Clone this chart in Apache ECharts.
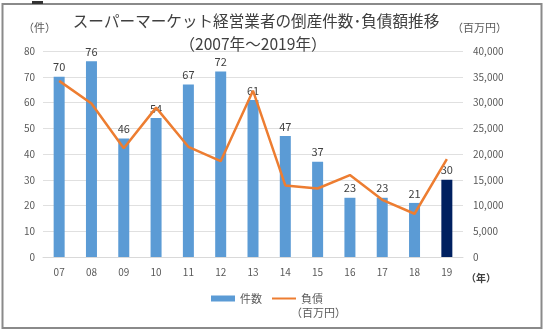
<!DOCTYPE html>
<html><head><meta charset="utf-8">
<script src="https://cdn.jsdelivr.net/npm/echarts@6/dist/echarts.min.js"></script>
<style>html,body{margin:0;padding:0;background:#fff}#c{width:544px;height:332px}</style>
</head><body><div id="c"></div>
<script>
const categories = ['07','08','09','10','11','12','13','14','15','16','17','18','19'];
const counts = [70,76,46,54,67,72,61,47,37,23,23,21,30];
const debts = [34200,29800,21100,29000,21400,18600,32300,13900,13300,15900,11100,8400,19000];
const leftTicks = [0,10,20,30,40,50,60,70,80];
const rightTicks = [0,5000,10000,15000,20000,25000,30000,35000,40000];

const font = '"Noto Sans CJK JP", "Noto Sans", sans-serif';
const chart = echarts.init(document.getElementById('c'));
chart.setOption({
  animation: false,
  textStyle: {fontFamily: font},
  title: [
    {text: 'スーパーマーケット経営業者の倒産件数･負債額推移', left: 251, top: 8, textAlign: 'center',
     textStyle: {fontSize: 15.6, fontWeight: 'normal', color: '#404040', fontFamily: font}},
    {text: '（2007年～2019年）', left: 248, top: 31, textAlign: 'center',
     textStyle: {fontSize: 15.6, fontWeight: 'normal', color: '#404040', fontFamily: font}}
  ],
  graphic: [
    {type: 'rect', shape: {x: 2.5, y: 4, width: 539, height: 324}, style: {fill: 'none', stroke: '#8a8a8a', lineWidth: 2}},
    {type: 'rect', shape: {x: 32, y: 1, width: 11, height: 3}, style: {fill: '#333'}},
    {type: 'text', left: 23, top: 22, style: {text: '（件）', fontSize: 11, fill: '#595959', fontFamily: font}},
    {type: 'text', left: 452, top: 22, style: {text: '（百万円）', fontSize: 11, fill: '#595959', fontFamily: font}},
    {type: 'text', left: 466, top: 273, style: {text: '（年）', fontSize: 10, fill: '#404040', fontWeight: 'bold', fontFamily: font}},
    {type: 'text', left: 291, top: 307, style: {text: '（百万円）', fontSize: 11, fill: '#595959', fontFamily: font}}
  ],
  legend: {
    left: 206, top: 288, itemGap: 10, itemWidth: 24, itemHeight: 6,
    textStyle: {fontSize: 11, color: '#595959', fontFamily: font},
    data: [
      {name: '件数', icon: 'rect'},
      {name: '負債', icon: 'path://M0,0 L24,0 L24,2 L0,2 Z'}
    ]
  },
  grid: {left: 43, right: 81, top: 51, bottom: 75},
  xAxis: {
    type: 'category', data: categories,
    axisLine: {show: true, lineStyle: {color: '#d9d9d9'}},
    axisTick: {show: false},
    axisLabel: {color: '#595959', fontSize: 10, margin: 10}
  },
  yAxis: [
    {type: 'value', min: 0, max: 80, interval: 10,
     axisLine: {show: false}, axisTick: {show: false},
     axisLabel: {color: '#595959', fontSize: 10, margin: 8},
     splitLine: {lineStyle: {color: '#e0e0e0'}}},
    {type: 'value', min: 0, max: 40000, interval: 5000,
     axisLine: {show: false}, axisTick: {show: false},
     axisLabel: {color: '#595959', fontSize: 10, margin: 10,
       formatter: v => v.toLocaleString('en-US')},
     splitLine: {show: false}}
  ],
  series: [
    {name: '件数', type: 'bar', barWidth: 11, yAxisIndex: 0,
     itemStyle: {color: '#5b9bd5'},
     data: counts.map((v, i) => i === counts.length - 1 ? {value: v, itemStyle: {color: '#002060'}} : v),
     label: {show: true, position: 'top', color: '#404040', fontSize: 11, distance: 4}},
    {name: '負債', type: 'line', yAxisIndex: 1, data: debts,
     symbol: 'none', lineStyle: {color: '#ed7d31', width: 2.5}, itemStyle: {color: '#ed7d31'}, z: 3}
  ]
});
</script></body></html>
